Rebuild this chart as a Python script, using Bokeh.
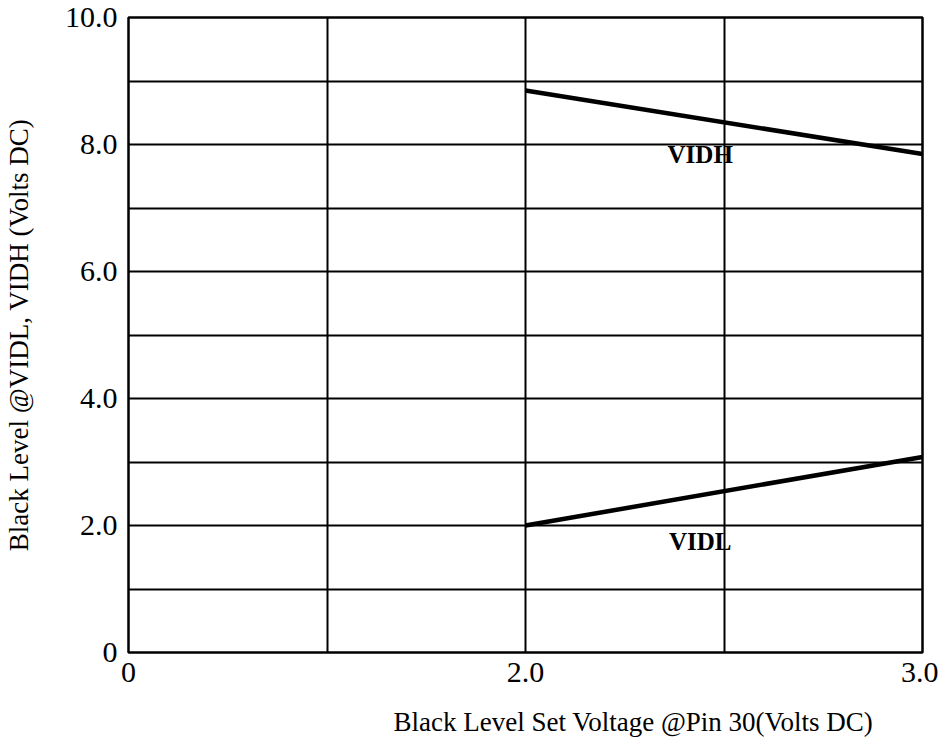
import numpy as np
from bokeh.plotting import figure
from bokeh.models import FixedTicker, Range1d, Title
from bokeh.core.properties import value
from bokeh.embed import file_html
from bokeh.resources import INLINE

# ---- data ----
# volts at each vertical grid line of the (non-uniform) x axis
x_grid_volts = [0.0, 1.0, 2.0, 2.5, 3.0]
x_label_volts = [0.0, 2.0, 3.0]
x_tick_labels = ["0", "2.0", "3.0"]
y_label_values = [0, 2, 4, 6, 8, 10]
y_tick_labels = ["0", "2.0", "4.0", "6.0", "8.0", "10.0"]
y_grid_values = [1, 2, 3, 4, 5, 6, 7, 8, 9]

vidh_x = [2.0, 3.0]
vidh_y = [8.85, 7.85]
vidl_x = [2.0, 3.0]
vidl_y = [2.0, 3.08]

series_names = ["VIDH", "VIDL"]
name_x = [2.44, 2.44]
name_y = [7.85, 1.75]

x_title = "Black Level Set Voltage @Pin 30(Volts DC)"
y_title = "Black Level @VIDL, VIDH (Volts DC)"

# piecewise axis: each grid interval gets equal width
grid_pos = list(range(len(x_grid_volts)))


def xpos(v):
    return [float(t) for t in np.interp(v, x_grid_volts, grid_pos)]


FONT = "Liberation Serif"

p = figure(frame_width=794, frame_height=635,
           x_range=Range1d(0, grid_pos[-1]), y_range=Range1d(0, 10),
           output_backend="svg", toolbar_location=None,
           min_border_left=126, min_border_right=16,
           min_border_top=17, min_border_bottom=20)

p.outline_line_color = "black"
p.outline_line_width = 2.5
p.background_fill_color = "white"
p.border_fill_color = "white"

# grids
p.xgrid.ticker = FixedTicker(ticks=xpos(x_grid_volts[1:-1]))
p.ygrid.ticker = FixedTicker(ticks=y_grid_values)
for g in (p.xgrid, p.ygrid):
    g.grid_line_color = "black"
    g.grid_line_width = 2
    g.grid_line_alpha = 1.0

# axes
xt = xpos(x_label_volts)
p.xaxis.ticker = FixedTicker(ticks=xt)
p.xaxis.major_label_overrides = {t: lab for t, lab in zip(xt, x_tick_labels)}
p.yaxis.ticker = FixedTicker(ticks=y_label_values)
p.yaxis.major_label_overrides = {v: lab for v, lab in zip(y_label_values, y_tick_labels)}

for ax in (p.xaxis, p.yaxis):
    ax.axis_line_color = None
    ax.major_tick_line_color = None
    ax.minor_tick_line_color = None
    ax.major_tick_out = 0
    ax.major_tick_in = 0
    ax.major_label_text_font = FONT
    ax.major_label_text_font_size = "30px"
    ax.major_label_text_color = "black"
    ax.axis_label_text_font = FONT
    ax.axis_label_text_font_size = "27px"
    ax.axis_label_text_font_style = "normal"
    ax.axis_label_text_color = "black"

p.xaxis.major_label_standoff = 10
p.yaxis.major_label_standoff = 11
p.yaxis.axis_label = y_title
p.yaxis.axis_label_standoff = 28

# x-axis title, set to the right of centre as in the original sheet
p.add_layout(Title(text=x_title, align="left", offset=265, standoff=44,
                   vertical_align="top",
                   text_font=FONT, text_font_size="27px",
                   text_font_style="normal", text_color="black"), "below")

# series
p.line(xpos(vidh_x), vidh_y, line_color="black", line_width=4.5)
p.line(xpos(vidl_x), vidl_y, line_color="black", line_width=4.5)

p.text(x=xpos(name_x), y=name_y, text=series_names,
       text_font=value(FONT), text_font_style="bold", text_font_size="25px",
       text_align="center", text_baseline="middle", text_color="black")

open("out.html", "w").write(file_html(p, INLINE))
